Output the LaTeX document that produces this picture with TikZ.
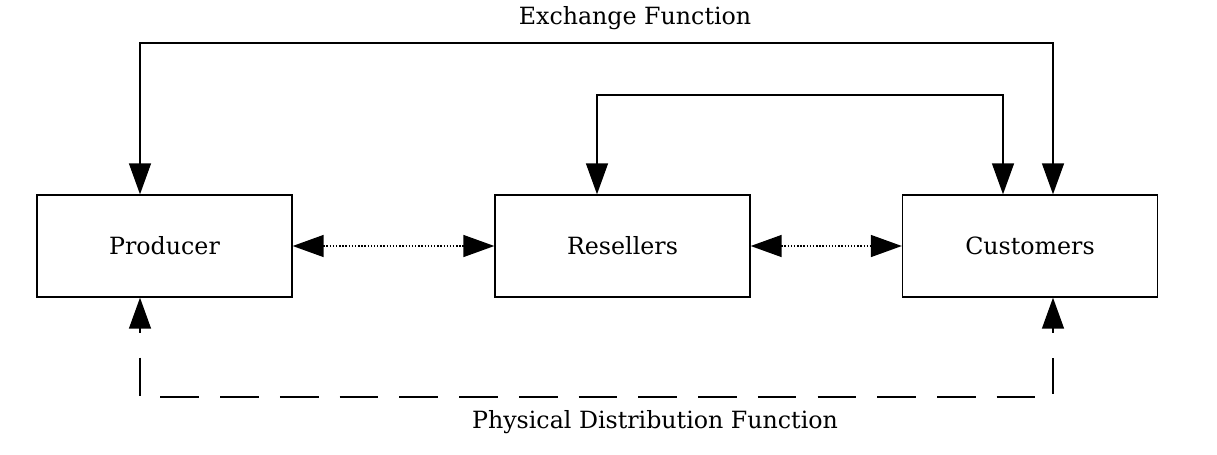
\documentclass[tikz,border=0pt]{standalone}
\usepackage{fontspec}
\setmainfont{DejaVu Serif}
\usepackage{tikz}
\usetikzlibrary{arrows.meta,positioning,calc}

\begin{document}
\begin{tikzpicture}[x=0.02cm, y=-0.02cm,
  box/.style={draw, thick, minimum width=5.1cm, minimum height=2.04cm, font=\fontsize{13.5}{16}\selectfont},
  lab/.style={font=\fontsize{13.5}{16}\selectfont},
  arr/.style={-{Triangle[length=0.62cm,width=0.44cm]}, thick},
  darr/.style={{Triangle[length=0.62cm,width=0.44cm]}-{Triangle[length=0.62cm,width=0.44cm]}, thick, densely dotted}
]
\useasboundingbox (0,0) rectangle (1217,454);
\node[box] (prod) at (164.5,246) {Producer};
\node[box] (res) at (622.5,246) {Resellers};
\node[box] (cust) at (1030,246) {Customers};

% exchange function
\coordinate (e1) at (140,43);
\coordinate (e2) at (1053,43);
\coordinate (i1) at (597,95);
\coordinate (i2) at (1003,95);
\draw[arr] (e2) -- (e1) -- (prod.north -| e1);
\draw[arr] (e1) -- (e2) -- (cust.north -| e2);
\draw[arr] (i2) -- (i1) -- (res.north -| i1);
\draw[arr] (i1) -- (i2) -- (cust.north -| i2);
\node[lab] (ex) at (635,18) {Exchange Function};

% links
\draw[darr] (prod) -- (res);
\draw[darr] (res) -- (cust);

% physical distribution
\coordinate (p1) at (140,397);
\coordinate (p2) at (1053,397);
\draw[thick, dash pattern=on 22pt off 12pt] ($(prod.south -| p1)+(0,60)$) |- (p2) -- ($(cust.south -| p2)+(0,60)$);
\draw[arr] ($(prod.south -| p1)+(0,35)$) -- (prod.south -| p1);
\draw[arr] ($(cust.south -| p2)+(0,35)$) -- (cust.south -| p2);
\node[lab] (pd) at (655,422) {Physical Distribution Function};
\end{tikzpicture}
\end{document}
